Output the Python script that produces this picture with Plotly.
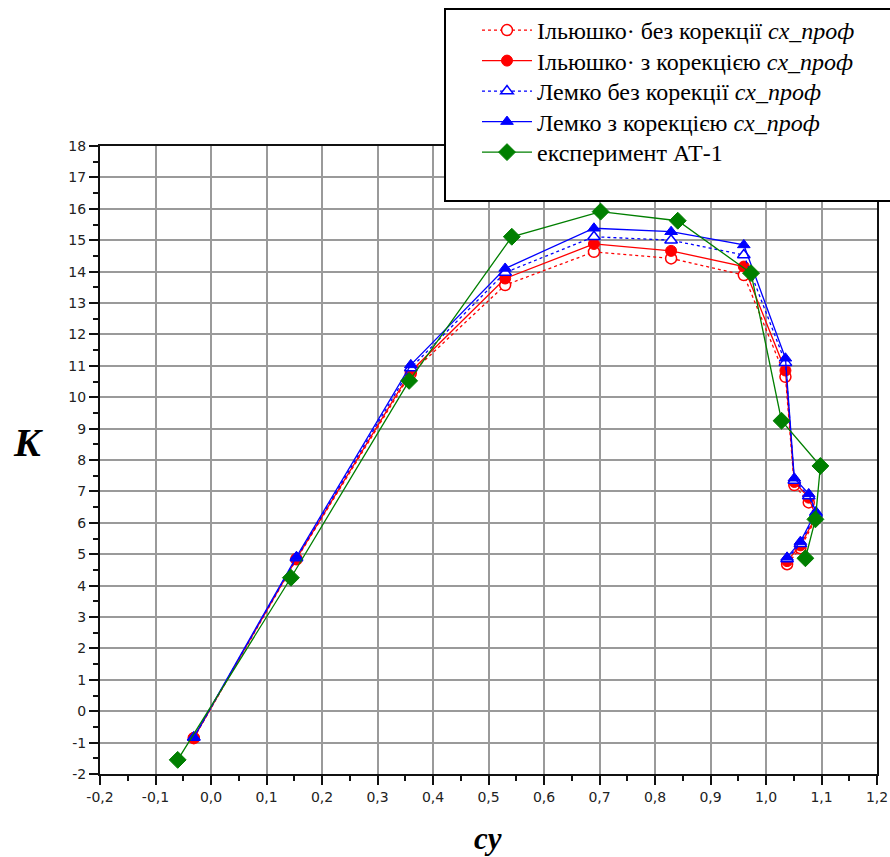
import plotly.graph_objects as go

# Lift-to-drag ratio K versus lift coefficient cy
cy_model = [-0.031, 0.154, 0.360, 0.530, 0.690, 0.829, 0.960, 1.035, 1.051, 1.077, 1.090, 1.062, 1.038]
k_ilyushko_raw = [-0.86, 4.84, 10.76, 13.57, 14.63, 14.42, 13.89, 10.65, 7.20, 6.65, 6.15, 5.19, 4.68]
k_ilyushko_corr = [-0.85, 4.86, 10.82, 13.78, 14.88, 14.66, 14.16, 10.85, 7.30, 6.80, 6.20, 5.28, 4.78]
k_lemko_raw = [-0.84, 4.88, 10.93, 13.97, 15.11, 15.00, 14.53, 11.10, 7.35, 6.85, 6.30, 5.33, 4.85]
k_lemko_corr = [-0.83, 4.92, 11.03, 14.10, 15.38, 15.27, 14.85, 11.24, 7.42, 6.92, 6.35, 5.40, 4.90]

cy_exp = [-0.060, 0.144, 0.357, 0.542, 0.702, 0.841, 0.973, 1.028, 1.098, 1.089, 1.071]
k_exp = [-1.55, 4.25, 10.52, 15.11, 15.91, 15.62, 13.95, 9.25, 7.81, 6.11, 4.87]

x_ticks = [-0.2, -0.1, 0.0, 0.1, 0.2, 0.3, 0.4, 0.5, 0.6, 0.7, 0.8, 0.9, 1.0, 1.1, 1.2]
x_labels = ["-0,2", "-0,1", "0,0", "0,1", "0,2", "0,3", "0,4", "0,5", "0,6", "0,7",
            "0,8", "0,9", "1,0", "1,1", "1,2"]
y_ticks = list(range(-2, 19))
y_labels = [str(v) for v in y_ticks]

names = [
    "Ільюшко· без корекції <i>cx_проф</i>",
    "Ільюшко· з корекцією <i>cx_проф</i>",
    "Лемко без корекції <i>cx_проф</i>",
    "Лемко з корекцією <i>cx_проф</i>",
    "експеримент АТ-1",
]

RED = "#ff0000"
BLUE = "#0000ff"
GREEN = "#007f00"

fig = go.Figure()

fig.add_trace(go.Scatter(
    x=cy_model, y=k_ilyushko_raw, mode="lines+markers", name=names[0], legend="legend",
    line=dict(color=RED, width=1.3, dash="dot"),
    marker=dict(symbol="circle", size=11, color="white", line=dict(color=RED, width=1.5)),
))
fig.add_trace(go.Scatter(
    x=cy_model, y=k_ilyushko_corr, mode="lines+markers", name=names[1], legend="legend2",
    line=dict(color=RED, width=1.3),
    marker=dict(symbol="circle", size=11, color=RED, line=dict(color=RED, width=1)),
))
fig.add_trace(go.Scatter(
    x=cy_model, y=k_lemko_raw, mode="lines+markers", name=names[2], legend="legend3",
    line=dict(color=BLUE, width=1.3, dash="dot"),
    marker=dict(symbol="triangle-up", size=11, color="white", line=dict(color=BLUE, width=1.5)),
))
fig.add_trace(go.Scatter(
    x=cy_model, y=k_lemko_corr, mode="lines+markers", name=names[3], legend="legend4",
    line=dict(color=BLUE, width=1.3),
    marker=dict(symbol="triangle-up", size=11, color=BLUE, line=dict(color=BLUE, width=1)),
))
fig.add_trace(go.Scatter(
    x=cy_exp, y=k_exp, mode="lines+markers", name=names[4], legend="legend5",
    line=dict(color=GREEN, width=1.3),
    marker=dict(symbol="diamond", size=13, color=GREEN, line=dict(color=GREEN, width=1)),
))

W, H = 890, 857
ML, MR, MT, MB = 100, 13, 146, 83
PW, PH = W - ML - MR, H - MT - MB


def px(xp):
    return (xp - ML) / PW


def py(yp):
    return (H - MB - yp) / PH


tick_font = dict(family="DejaVu Sans", size=14, color="#222222")
axis_common = dict(
    showgrid=True, gridcolor="#9a9a9a", gridwidth=1.5, zeroline=False,
    showline=True, linecolor="#111111", linewidth=2, mirror=True,
    ticks="outside", ticklen=9, tickwidth=1.5, tickcolor="#111111",
    tickmode="array", tickfont=tick_font,
)

# one legend per entry so the rows sit at a fixed pitch
row_centres = [30.5, 61, 91.5, 122, 152.5]
legend_keys = ["legend", "legend2", "legend3", "legend4", "legend5"]
legends = {
    key: dict(
        x=px(477), y=py(yc), xanchor="left", yanchor="middle",
        bgcolor="rgba(0,0,0,0)", borderwidth=0,
        font=dict(family="Liberation Serif", size=24, color="black"),
        itemwidth=50,
    )
    for key, yc in zip(legend_keys, row_centres)
}

fig.update_layout(
    width=W, height=H,
    margin=dict(l=ML, r=MR, t=MT, b=MB, pad=0, autoexpand=False),
    paper_bgcolor="white", plot_bgcolor="white",
    xaxis=dict(range=[-0.2, 1.2], tickvals=x_ticks, ticktext=x_labels,
               minor=dict(ticks="outside", ticklen=5, tickwidth=1.5, tickcolor="#111111",
                          dtick=0.05, tick0=-0.2, showgrid=False),
               **axis_common),
    yaxis=dict(range=[-2, 18], tickvals=y_ticks, ticktext=y_labels,
               minor=dict(ticks="outside", ticklen=5, tickwidth=1.5, tickcolor="#111111",
                          dtick=0.5, tick0=-2, showgrid=False),
               **axis_common),
    showlegend=True,
    shapes=[dict(
        type="rect", xref="paper", yref="paper",
        x0=px(445), x1=px(905), y0=py(201), y1=py(9),
        line=dict(color="black", width=2), fillcolor="white", layer="above",
    )],
    annotations=[
        dict(text="<b><i>K</i></b>", xref="paper", yref="paper", x=px(28), y=py(442),
             xanchor="center", yanchor="middle", showarrow=False,
             font=dict(family="Liberation Serif", size=40, color="black")),
        dict(text="<b><i>cy</i></b>", xref="paper", yref="paper", x=px(488), y=py(838),
             xanchor="center", yanchor="middle", showarrow=False,
             font=dict(family="Liberation Serif", size=31, color="black")),
    ],
    **legends,
)

fig.write_html("out.html")
